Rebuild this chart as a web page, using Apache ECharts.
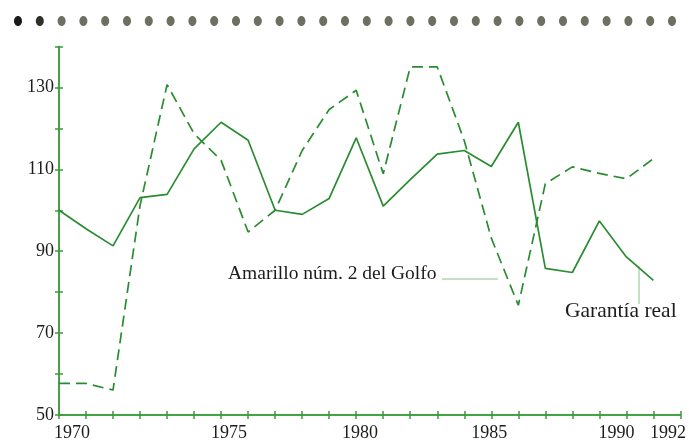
<!DOCTYPE html>
<html><head><meta charset="utf-8">
<script src="https://cdn.jsdelivr.net/npm/echarts@6/dist/echarts.min.js"></script>
<style>html,body{margin:0;padding:0;background:#fff}#c{width:689px;height:444px}</style>
</head><body><div id="c"></div>
<script>
// ---- data ----
const years = [1970,1971,1972,1973,1974,1975,1976,1977,1978,1979,1980,1981,1982,1983,1984,1985,1986,1987,1988,1989,1990,1991,1992];
const garantiaReal = [100.0,95.5,91.3,103.1,103.9,115.0,121.5,117.1,100.0,99.0,102.9,117.7,101.0,107.5,113.7,114.6,110.7,121.5,85.8,84.8,97.4,88.6,82.9];
const amarilloGolfo = [57.7,57.7,56.1,101.2,130.7,118.7,112.2,94.7,100.0,114.6,124.6,129.3,108.9,135.0,135.0,117.0,93.2,76.8,106.5,110.6,109.0,107.7,112.6];
const xLabelYears = [1970,1975,1980,1985,1990,1992];
const yLabelValues = [50,70,90,110,130];
const seriesNames = ['Garantía real','Amarillo núm. 2 del Golfo'];

// ---- style ----
const xLabelShift = [0.48,1.29,1.14,0.92,0.63,0.54];
const AXIS = '#3a9c3a', LINE = '#2a8c30', TXT = '#1c1c1c';
const FONT = '"Liberation Serif","DejaVu Serif",serif';

const chart = echarts.init(document.getElementById('c'), null, {renderer:'canvas'});
const tickYears = []; for (let y = 1970; y <= 1993; y++) tickYears.push(y);
const labelPos = xLabelYears.map((y,i) => y + xLabelShift[i]);

const xBase = {type:'value', min:1970, max:1993, interval:1, position:'bottom',
  splitLine:{show:false}, axisLine:{show:true, lineStyle:{color:AXIS, width:1.5}}};
const yBase = {type:'value', min:50, max:140, interval:10, position:'left',
  splitLine:{show:false}, axisLine:{show:true, lineStyle:{color:AXIS, width:1.5}}};

const dots = [];
for (let i = 0; i < 31; i++) {
  dots.push({type:'ellipse', silent:true,
    shape:{cx:18 + i*21.8, cy:21, rx:4, ry:5},
    style:{fill: i === 0 ? '#1a1a1a' : (i === 1 ? '#2e302a' : '#6b7060')}});
}

chart.setOption({
  animation:false,
  backgroundColor:'#fff',
  grid:{left:59, right:4, top:46.5, bottom:29, containLabel:false},
  xAxis:[
    Object.assign({}, xBase, {
      axisTick:{show:true, inside:false, length:4, lineStyle:{color:AXIS, width:1.5}, customValues:tickYears},
      axisLabel:{show:true, customValues:labelPos, margin:9, color:TXT, fontFamily:FONT, fontSize:18,
        formatter: v => { const i = labelPos.findIndex(p => Math.abs(p - v) < 1e-6); return i >= 0 ? String(xLabelYears[i]) : ''; }}
    }),
    Object.assign({}, xBase, {
      axisTick:{show:true, inside:true, length:4, lineStyle:{color:AXIS, width:1.5}},
      axisLabel:{show:false}
    })
  ],
  yAxis:[
    Object.assign({}, yBase, {
      axisTick:{show:true, inside:false, length:4, lineStyle:{color:AXIS, width:1.5}},
      axisLabel:{show:true, margin:5, color:TXT, fontFamily:FONT, fontSize:18,
        formatter: v => yLabelValues.includes(v) ? String(v) : ''}
    }),
    Object.assign({}, yBase, {
      axisTick:{show:true, inside:true, length:4, lineStyle:{color:AXIS, width:1.5}},
      axisLabel:{show:false}
    })
  ],
  series:[
    {name:seriesNames[0], type:'line', xAxisIndex:0, yAxisIndex:0, symbol:'none',
      data: years.map((y,i) => [y, garantiaReal[i]]),
      lineStyle:{color:LINE, width:1.7}},
    {name:seriesNames[1], type:'line', xAxisIndex:0, yAxisIndex:0, symbol:'none',
      data: years.map((y,i) => [y, amarilloGolfo[i]]),
      lineStyle:{color:LINE, width:1.7, type:[11,6]}}
  ],
  graphic:[
    {type:'group', silent:true, children:dots},
    {type:'text', silent:true, style:{x:228, y:274, text:seriesNames[1], font:'19.5px ' + FONT, fill:TXT, verticalAlign:'middle'}},
    {type:'line', silent:true, shape:{x1:442, y1:279, x2:498, y2:279}, style:{stroke:'#8cc08c', lineWidth:1}},
    {type:'text', silent:true, style:{x:565, y:311, text:seriesNames[0], font:'21.5px ' + FONT, fill:TXT, verticalAlign:'middle'}},
    {type:'line', silent:true, shape:{x1:639, y1:266, x2:639, y2:304}, style:{stroke:'#8cc08c', lineWidth:1}}
  ]
});
</script>
</body></html>
